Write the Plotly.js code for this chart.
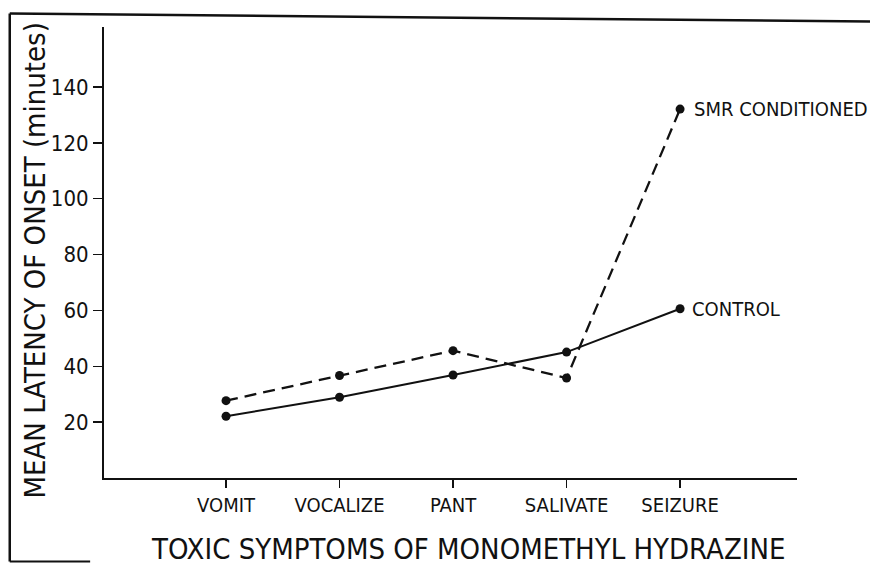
<!DOCTYPE html>
<html>
<head>
<meta charset="utf-8">
<script src="https://cdn.plot.ly/plotly-3.0.1.min.js"></script>
<style>
html,body{margin:0;padding:0;background:#fff;}
#chart{width:870px;height:565px;}
</style>
</head>
<body>
<div id="chart"></div>
<script>
// Data
const symptoms = ["VOMIT", "VOCALIZE", "PANT", "SALIVATE", "SEIZURE"];
const controlLatency = [22.1, 28.9, 36.9, 45.1, 60.6];
const smrLatency = [27.7, 36.7, 45.6, 35.8, 132.1];
const seriesNames = ["CONTROL", "SMR CONDITIONED"];
const yTicks = [20, 40, 60, 80, 100, 120, 140];
const xTitle = "TOXIC SYMPTOMS OF MONOMETHYL HYDRAZINE";
const yTitle = "MEAN LATENCY OF ONSET (minutes)";

const FONT = "'DejaVu Sans Condensed', 'Liberation Sans Narrow', sans-serif";
const idx = symptoms.map((_, i) => i);

const traces = [
  {
    x: idx, y: controlLatency, name: seriesNames[0],
    type: "scatter", mode: "lines+markers",
    line: {color: "#111", width: 2},
    marker: {color: "#111", size: 9}
  },
  {
    x: idx, y: smrLatency, name: seriesNames[1],
    type: "scatter", mode: "lines+markers",
    line: {color: "#111", width: 2.3, dash: "12px,7px"},
    marker: {color: "#111", size: 9}
  }
];

const layout = {
  width: 870, height: 565,
  margin: {l: 104, r: 73, t: 27, b: 87},
  paper_bgcolor: "#fff", plot_bgcolor: "#fff",
  showlegend: false,
  font: {family: FONT, color: "#111"},
  xaxis: {
    range: [-1.075, 5.03],
    tickmode: "array", tickvals: idx, ticktext: symptoms,
    ticks: "outside", ticklen: 8, tickwidth: 1.5, tickcolor: "#111",
    showline: true, linecolor: "#111", linewidth: 2,
    showgrid: false, zeroline: false,
    tickfont: {family: FONT, size: 20, color: "#111"}
  },
  yaxis: {
    range: [0, 161.5],
    tickmode: "array", tickvals: yTicks,
    ticks: "outside", ticklen: 9, tickwidth: 1.5, tickcolor: "#111",
    showline: true, linecolor: "#111", linewidth: 2,
    showgrid: false, zeroline: false,
    tickfont: {family: FONT, size: 22, color: "#111"}
  },
  annotations: [
    {x: 4, y: smrLatency[4], xref: "x", yref: "y", text: seriesNames[1], showarrow: false,
     xanchor: "left", xshift: 12, font: {family: FONT, size: 20, color: "#111"}},
    {x: 4, y: controlLatency[4], xref: "x", yref: "y", text: seriesNames[0], showarrow: false,
     xanchor: "left", xshift: 10, font: {family: FONT, size: 20, color: "#111"}},
    {x: 0.5, y: 0, xref: "paper", yref: "paper", text: xTitle, showarrow: false,
     xanchor: "center", yanchor: "middle", xshift: 17, yshift: -71,
     font: {family: FONT, size: 29, color: "#111"}},
    {x: 0, y: 0.5, xref: "paper", yref: "paper", text: yTitle, showarrow: false,
     textangle: -90, xanchor: "center", yanchor: "middle", xshift: -70, yshift: -8,
     font: {family: FONT, size: 29, color: "#111"}}
  ],
  shapes: [
    {type: "line", xref: "paper", yref: "paper", x0: -0.136, x1: 1.11, y0: 1.03, y1: 1.012, line: {color: "#111", width: 2.5}},
    {type: "line", xref: "paper", yref: "paper", x0: -0.136, x1: -0.136, y0: 1.03, y1: -0.185, line: {color: "#111", width: 2.5}},
    {type: "line", xref: "paper", yref: "paper", x0: -0.136, x1: -0.02, y0: -0.185, y1: -0.185, line: {color: "#111", width: 2}}
  ]
};

Plotly.newPlot("chart", traces, layout, {staticPlot: true, displayModeBar: false});
</script>
</body>
</html>
